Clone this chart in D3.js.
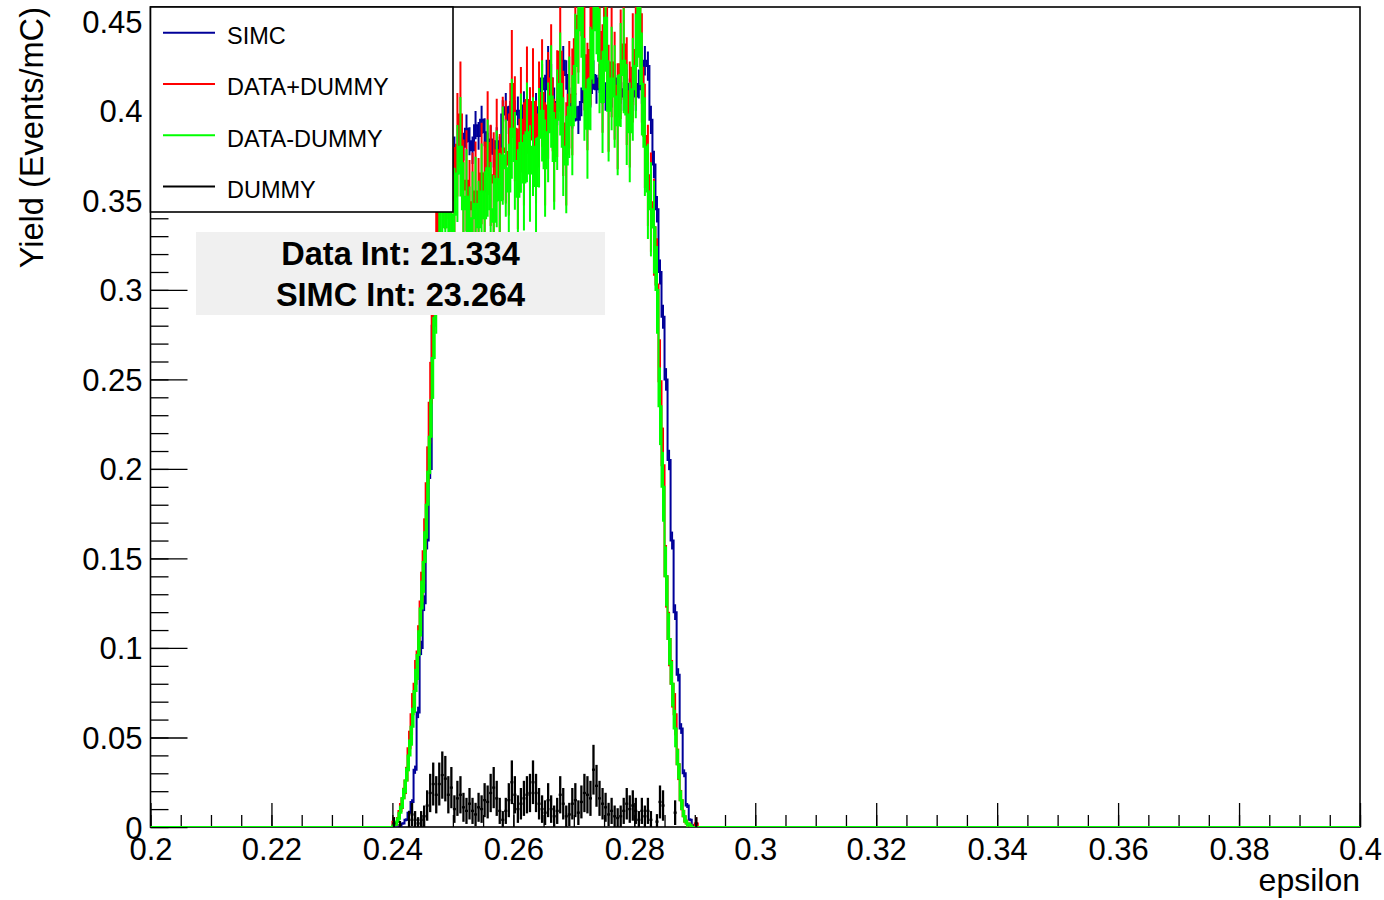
<!DOCTYPE html>
<html><head><meta charset="utf-8">
<script src="https://cdn.jsdelivr.net/npm/d3@7"></script>
<style>
body{margin:0;background:#fff;}
svg{display:block;}
text{font-family:"Liberation Sans",Arial,Helvetica,sans-serif;}
</style>
</head><body>
<svg id="c" width="1384" height="900"></svg>
<script>
// ---- histogram definition ----
const histMin = 0.2, histMax = 0.4, binWidth = 0.0005;
const dataStart = 0.24;   // low edge of first listed bin; all other bins are empty

// ---- series values (bins from 0.2400 upward, width 0.0005) ----
const simc = [0,0,0,0.002,0.004,0.008,0.014,0.032,0.064,0.100,
 0.125,0.160,0.200,0.280,0.310,0.345,0.360,0.368,0.372,0.365,
 0.378,0.372,0.385,0.380,0.390,0.383,0.378,0.392,0.386,0.395,
 0.388,0.380,0.384,0.376,0.383,0.378,0.398,0.402,0.395,0.405,
 0.398,0.400,0.393,0.403,0.398,0.405,0.396,0.402,0.398,0.418,
 0.412,0.428,0.418,0.405,0.400,0.410,0.428,0.420,0.405,0.398,
 0.402,0.395,0.405,0.412,0.418,0.410,0.420,0.412,0.418,0.412,
 0.408,0.415,0.410,0.418,0.405,0.412,0.408,0.415,0.410,0.413,
 0.408,0.415,0.412,0.428,0.425,0.395,0.370,0.345,0.310,0.285,
 0.250,0.205,0.160,0.120,0.085,0.055,0.030,0.012,0.004,0.001,
 0];
const simcErr = [0,0,0,0.0006,0.0008,0.0011,0.0015,0.0023,0.0032,0.004,
 0.0044,0.005,0.0056,0.0066,0.007,0.0074,0.0075,0.0076,0.0077,0.0076,
 0.0077,0.0077,0.0078,0.0078,0.0079,0.0078,0.0077,0.0079,0.0078,0.0079,
 0.0078,0.0078,0.0078,0.0077,0.0078,0.0077,0.0079,0.008,0.0079,0.008,
 0.0079,0.008,0.0079,0.008,0.0079,0.008,0.0079,0.008,0.0079,0.0081,
 0.0081,0.0082,0.0081,0.008,0.008,0.0081,0.0082,0.0082,0.008,0.0079,
 0.008,0.0079,0.008,0.0081,0.0081,0.0081,0.0082,0.0081,0.0081,0.0081,
 0.008,0.0081,0.0081,0.0081,0.008,0.0081,0.008,0.0081,0.0081,0.0081,
 0.008,0.0081,0.0081,0.0082,0.0082,0.0079,0.0077,0.0074,0.007,0.0067,
 0.0063,0.0057,0.005,0.0044,0.0037,0.003,0.0022,0.0014,0.0008,0.0004,
 0];

const dataPlusDummy = [0.003,0.003,0.009,0.016,0.026,0.044,0.063,0.080,0.098,0.126,
 0.154,0.192,0.237,0.286,0.318,0.354,0.374,0.362,0.368,0.350,
 0.352,0.381,0.398,0.356,0.361,0.345,0.349,0.355,0.346,0.365,
 0.355,0.382,0.364,0.360,0.378,0.359,0.379,0.377,0.370,0.415,
 0.390,0.362,0.395,0.376,0.406,0.384,0.405,0.377,0.398,0.410,
 0.376,0.403,0.418,0.378,0.404,0.433,0.393,0.376,0.409,0.405,
 0.440,0.453,0.474,0.431,0.408,0.434,0.477,0.485,0.444,0.418,
 0.463,0.407,0.427,0.414,0.397,0.426,0.437,0.411,0.398,0.424,
 0.434,0.464,0.424,0.386,0.364,0.349,0.335,0.303,0.249,0.202,
 0.140,0.105,0.080,0.063,0.035,0.015,0.006,0.002,0.001,0,
 0.002];
const dataPlusDummyErr = [0.0026,0.0026,0.0044,0.0059,0.0076,0.0098,0.0118,0.0133,0.0147,0.0166,
 0.0184,0.0206,0.0228,0.0251,0.0264,0.0279,0.0287,0.0282,0.0285,0.0277,
 0.0278,0.0289,0.0296,0.028,0.0282,0.0276,0.0277,0.0279,0.0276,0.0283,
 0.0279,0.029,0.0283,0.0281,0.0288,0.0281,0.0289,0.0288,0.0285,0.0302,
 0.0293,0.0282,0.0295,0.0288,0.0299,0.0291,0.0299,0.0288,0.0296,0.03,
 0.0288,0.0298,0.0303,0.0288,0.0298,0.0309,0.0294,0.0288,0.03,0.0298,
 0.0311,0.0316,0.0323,0.0308,0.03,0.0309,0.0324,0.0327,0.0313,0.0303,
 0.0319,0.0299,0.0306,0.0302,0.0296,0.0306,0.031,0.0301,0.0296,0.0305,
 0.0309,0.0319,0.0305,0.0291,0.0283,0.0277,0.0271,0.0258,0.0234,0.0211,
 0.0175,0.0152,0.0133,0.0118,0.0088,0.0057,0.0036,0.0021,0.0015,0,
 0.0035];

const dataMinusDummy = [0.001,0.003,0.008,0.016,0.026,0.040,0.056,0.076,0.096,0.122,
 0.148,0.180,0.218,0.262,0.300,0.330,0.345,0.335,0.350,0.328,
 0.342,0.365,0.380,0.345,0.352,0.332,0.340,0.348,0.335,0.355,
 0.340,0.368,0.345,0.338,0.362,0.350,0.375,0.368,0.355,0.390,
 0.372,0.352,0.382,0.360,0.388,0.365,0.380,0.358,0.385,0.400,
 0.368,0.388,0.408,0.372,0.395,0.415,0.380,0.370,0.402,0.392,
 0.425,0.445,0.460,0.412,0.390,0.418,0.445,0.462,0.428,0.405,
 0.452,0.400,0.418,0.408,0.392,0.420,0.428,0.398,0.388,0.412,
 0.425,0.460,0.415,0.380,0.355,0.345,0.335,0.300,0.235,0.190,
 0.140,0.105,0.080,0.055,0.035,0.015,0.006,0.002,0.001,0,
 0];
const dataMinusDummyErr = [0.0014,0.0024,0.004,0.0057,0.0072,0.0089,0.0106,0.0123,0.0139,0.0156,
 0.0172,0.019,0.0209,0.0229,0.0245,0.0257,0.0263,0.0262,0.0266,0.0258,
 0.0262,0.0271,0.0278,0.0263,0.0266,0.0258,0.0261,0.0264,0.0259,0.0267,
 0.0261,0.0272,0.0264,0.0261,0.027,0.0265,0.0274,0.0271,0.0266,0.0279,
 0.0273,0.0265,0.0277,0.0268,0.0279,0.027,0.0276,0.0268,0.0278,0.0283,
 0.0271,0.0279,0.0286,0.0273,0.0281,0.0288,0.0276,0.0272,0.0284,0.028,
 0.0292,0.0298,0.0303,0.0287,0.0279,0.0289,0.0298,0.0304,0.0293,0.0285,
 0.0301,0.0283,0.0289,0.0286,0.028,0.029,0.0293,0.0282,0.0279,0.0287,
 0.0292,0.0303,0.0288,0.0276,0.0266,0.0263,0.0259,0.0245,0.0217,0.0195,
 0.0167,0.0145,0.0127,0.0105,0.0084,0.0055,0.0035,0.002,0.0014,0,
 0];

const dummy = [0.002,0,0.001,0,0,0.004,0.007,0.004,0.002,0.004,
 0.006,0.012,0.019,0.024,0.018,0.024,0.029,0.027,0.018,0.022,
 0.010,0.016,0.018,0.011,0.009,0.013,0.009,0.007,0.011,0.010,
 0.015,0.014,0.019,0.022,0.016,0.009,0.004,0.009,0.015,0.025,
 0.018,0.010,0.013,0.016,0.018,0.019,0.025,0.019,0.013,0.010,
 0.008,0.015,0.010,0.006,0.009,0.018,0.013,0.006,0.007,0.013,
 0.015,0.008,0.014,0.019,0.018,0.016,0.032,0.023,0.016,0.013,
 0.011,0.007,0.009,0.006,0.005,0.006,0.009,0.013,0.010,0.012,
 0.009,0.004,0.009,0.006,0.009,0.004,0,0.003,0.014,0.012,
 0,0,0,0.008,0,0,0,0,0,0,
 0.002];
const dummyErr = [0.0035,0,0.0024,0,0,0.0049,0.0065,0.0049,0.0035,0.0049,
 0.006,0.0085,0.0107,0.012,0.0104,0.012,0.0132,0.0127,0.0104,0.0115,
 0.0077,0.0098,0.0104,0.0081,0.0073,0.0088,0.0073,0.0065,0.0081,0.0077,
 0.0095,0.0092,0.0107,0.0115,0.0098,0.0073,0.0049,0.0073,0.0095,0.0122,
 0.0104,0.0077,0.0088,0.0098,0.0104,0.0107,0.0122,0.0107,0.0088,0.0077,
 0.0069,0.0095,0.0077,0.006,0.0073,0.0104,0.0088,0.006,0.0065,0.0088,
 0.0095,0.0069,0.0092,0.0107,0.0104,0.0098,0.0139,0.0117,0.0098,0.0088,
 0.0081,0.0065,0.0073,0.006,0.0055,0.006,0.0073,0.0088,0.0077,0.0085,
 0.0073,0.0049,0.0073,0.006,0.0073,0.0049,0,0.0042,0.0092,0.0085,
 0,0,0,0.0069,0,0,0,0,0,0,
 0.0035];

// ---- axes / labels ----
const xTicksMajor = [0.2,0.22,0.24,0.26,0.28,0.3,0.32,0.34,0.36,0.38,0.4];
const xTickLabels = ["0.2","0.22","0.24","0.26","0.28","0.3","0.32","0.34","0.36","0.38","0.4"];
const yTicksMajor = [0,0.05,0.1,0.15,0.2,0.25,0.3,0.35,0.4,0.45];
const yTickLabels = ["0","0.05","0.1","0.15","0.2","0.25","0.3","0.35","0.4","0.45"];
const yMax = 0.458;
const legendNames = ["SIMC","DATA+DUMMY","DATA-DUMMY","DUMMY"];
const statLines = ["Data Int: 21.334","SIMC Int: 23.264"];
const xTitle = "epsilon";
const yTitle = "Yield (Events/mC)";

// ---- layout ----
const L = 150.5, R = 1360, T = 7, B = 827;
const svg = d3.select("#c");
const x = d3.scaleLinear().domain([histMin, histMax]).range([L, R]);
const y = d3.scaleLinear().domain([0, yMax]).range([B, T]);

const nBins = Math.round((histMax - histMin) / binWidth);
const offset = Math.round((dataStart - histMin) / binWidth);
function fullHist(vals, errs) {
  const out = [];
  for (let i = 0; i < nBins; i++) {
    const j = i - offset;
    const inside = j >= 0 && j < vals.length;
    out.push({lo: histMin + i * binWidth, hi: histMin + (i + 1) * binWidth,
              v: inside ? vals[j] : 0, e: inside ? errs[j] : 0});
  }
  return out;
}

// axes (ticks inside frame)
const minorY = d3.range(0, 46).map(d => d / 100).filter(d => d <= yMax);
const minorX = d3.range(0, 41).map(d => histMin + d * 0.005);
const gyMinor = svg.append("g").attr("transform", `translate(${L},0)`)
  .call(d3.axisLeft(y).tickValues(minorY).tickSize(-18).tickFormat(""));
const gy = svg.append("g").attr("transform", `translate(${L},0)`)
  .call(d3.axisLeft(y).tickValues(yTicksMajor).tickSize(-37).tickPadding(8)
    .tickFormat((d, i) => yTickLabels[i]));
const gxMinor = svg.append("g").attr("transform", `translate(0,${B})`)
  .call(d3.axisBottom(x).tickValues(minorX).tickSize(-12).tickFormat(""));
const gx = svg.append("g").attr("transform", `translate(0,${B})`)
  .call(d3.axisBottom(x).tickValues(xTicksMajor).tickSize(-24).tickPadding(11)
    .tickFormat((d, i) => xTickLabels[i]));
[gyMinor, gy, gxMinor, gx].forEach(g => {
  g.select(".domain").remove();
  g.selectAll("line").attr("stroke", "#000").attr("stroke-width", 1.3);
  g.selectAll("text").attr("font-size", 31).attr("fill", "#000")
    .style("font-family", '"Liberation Sans",Arial,sans-serif');
});
gy.selectAll("text").attr("dy", "0.355em");

// frame
svg.append("rect").attr("x", L).attr("y", T).attr("width", R - L).attr("height", B - T)
  .attr("fill", "none").attr("stroke", "#000").attr("stroke-width", 1.6);

// data
svg.append("clipPath").attr("id", "clip").append("rect")
  .attr("x", L).attr("y", T).attr("width", R - L).attr("height", B - T);
const plot = svg.append("g").attr("clip-path", "url(#clip)");

function drawHist(vals, errs, color) {
  const h = fullHist(vals, errs);
  const pts = [];
  h.forEach(b => { pts.push([b.lo, b.v]); pts.push([b.hi, b.v]); });
  plot.append("path").datum(pts)
    .attr("d", d3.line().x(d => x(d[0])).y(d => y(d[1])))
    .attr("fill", "none").attr("stroke", color).attr("stroke-width", 2);
  plot.append("g").selectAll("line").data(h.filter(b => b.e > 0)).join("line")
    .attr("x1", b => x((b.lo + b.hi) / 2)).attr("x2", b => x((b.lo + b.hi) / 2))
    .attr("y1", b => y(Math.max(0, b.v - b.e))).attr("y2", b => y(b.v + b.e))
    .attr("stroke", color).attr("stroke-width", 2);
}
function drawPoints(vals, errs, color) {
  const h = fullHist(vals, errs).filter(b => b.v > 0);
  const g = plot.append("g");
  g.selectAll("line.h").data(h).join("line").attr("class", "h")
    .attr("x1", b => x(b.lo)).attr("x2", b => x(b.hi))
    .attr("y1", b => y(b.v)).attr("y2", b => y(b.v))
    .attr("stroke", color).attr("stroke-width", 2.3);
  g.selectAll("line.v").data(h).join("line").attr("class", "v")
    .attr("x1", b => x((b.lo + b.hi) / 2)).attr("x2", b => x((b.lo + b.hi) / 2))
    .attr("y1", b => y(Math.max(0, b.v - b.e))).attr("y2", b => y(b.v + b.e))
    .attr("stroke", color).attr("stroke-width", 2.3);
}
const colors = ["#000099", "#ff0000", "#00ff00", "#000000"];
drawHist(simc, simcErr, colors[0]);
drawHist(dataPlusDummy, dataPlusDummyErr, colors[1]);
drawHist(dataMinusDummy, dataMinusDummyErr, colors[2]);
drawPoints(dummy, dummyErr, colors[3]);

// axis titles
svg.append("text").attr("x", R).attr("y", 891).attr("text-anchor", "end")
  .attr("font-size", 32).text(xTitle);
svg.append("text").attr("transform", "translate(43,7) rotate(-90)")
  .attr("text-anchor", "end").attr("font-size", 32.6).text(yTitle);

// legend
const lg = svg.append("g");
lg.append("rect").attr("x", L).attr("y", T).attr("width", 453 - L).attr("height", 212 - T)
  .attr("fill", "#fff").attr("stroke", "#000").attr("stroke-width", 1.6);
const legY = d3.scaleBand().domain(legendNames).range([T, 212]);
legendNames.forEach((n, i) => {
  const cy = legY(n) + legY.bandwidth() / 2;
  lg.append("line").attr("x1", 163).attr("x2", 215).attr("y1", cy).attr("y2", cy)
    .attr("stroke", colors[i]).attr("stroke-width", 2);
  lg.append("text").attr("x", 227).attr("y", cy + 11.5).attr("font-size", 23.5).text(n);
});

// stats box
const sb = svg.append("g");
sb.append("rect").attr("x", 196).attr("y", 232).attr("width", 409).attr("height", 83).attr("fill", "#f0f0f0");
statLines.forEach((s, i) => {
  sb.append("text").attr("x", 400.5).attr("y", 265 + i * 41).attr("text-anchor", "middle")
    .attr("font-size", 32.5).attr("font-weight", "bold").text(s);
});
</script>
</body></html>
